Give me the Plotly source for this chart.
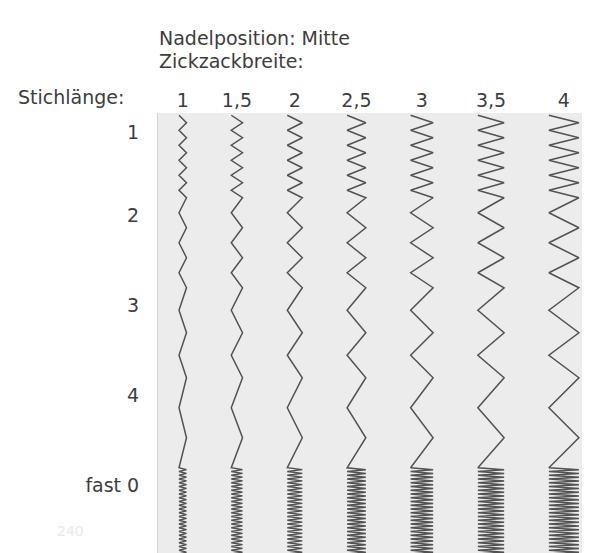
import numpy as np
import plotly.graph_objects as go

# ---- data ----
width_labels = ["1", "1,5", "2", "2,5", "3", "3,5", "4"]
zigzag_widths = [1.0, 1.5, 2.0, 2.5, 3.0, 3.5, 4.0]      # Zickzackbreite (mm)
row_labels = ["1", "2", "3", "4", "fast 0"]
stitch_lengths = [1.0, 2.0, 3.0, 4.0, 0.25]                # Stichlänge (mm), "fast 0" = satin
stitch_counts = [11, 6, 4, 3, 48]                          # stitches sewn per row

# ---- layout constants ----
OFF = 8                      # page body margin of the html page
W, H = 590 - OFF, 553 - OFF
ML, MT, MR, MB = 158 - OFF, 113 - OFF, 0, 0
PX_PER_MM = 7.5
plot_w = W - ML - MR
plot_h = H - MT - MB
x_max = plot_w / PX_PER_MM
y_max = plot_h / PX_PER_MM
x_start = 2.8      # mm, left edge of first column
col_gap = 5.97     # mm, gap between columns
y_start = 0.3      # mm, first stitch
label_offset = 2.3 # mm, row label below row start

TEXT = "#3d3d3d"
THREAD = "#525252"
FONT = "DejaVu Sans, Liberation Sans, Arial, sans-serif"
FS = 19

# column centres from widths
centers = []
left = x_start
for w in zigzag_widths:
    centers.append(left + w / 2)
    left += w + col_gap

# per-stitch lengths and row starts
per_stitch = np.concatenate([[L] * n for L, n in zip(stitch_lengths, stitch_counts)])
y_vertices = y_start + np.concatenate([[0.0], np.cumsum(per_stitch)])
row_starts = y_start + np.concatenate([[0.0], np.cumsum(np.array(stitch_lengths) * np.array(stitch_counts))[:-1]])
row_ticks = row_starts + label_offset

fig = go.Figure()
sides = np.where(np.arange(len(y_vertices)) % 2 == 0, -1.0, 1.0)
for c, w in zip(centers, zigzag_widths):
    fig.add_trace(go.Scatter(
        x=c + sides * w / 2,
        y=y_vertices,
        mode="lines",
        line=dict(color=THREAD, width=1.5),
        hoverinfo="skip",
        showlegend=False,
    ))

def px_x(px):
    return (px - OFF - ML) / plot_w

def px_y(py):
    return (H - MB - (py - OFF)) / plot_h

annotations = [
    dict(text="Nadelposition: Mitte", x=px_x(157), y=px_y(38)),
    dict(text="Zickzackbreite:", x=px_x(157), y=px_y(61)),
    dict(text="Stichlänge:", x=px_x(16), y=px_y(97)),
    dict(text="240", x=px_x(55), y=px_y(531), color="#e8e8e8", size=14),
]
fig.update_layout(
    width=W, height=H,
    margin=dict(l=ML, r=MR, t=MT, b=MB, pad=0),
    paper_bgcolor="white",
    plot_bgcolor="#ececec",
    font=dict(family=FONT, size=FS, color=TEXT),
    annotations=[
        dict(text=a["text"], x=a["x"], y=a["y"], xref="paper", yref="paper",
             xanchor="left", yanchor="middle", showarrow=False,
             font=dict(family=FONT, size=a.get("size", FS), color=a.get("color", TEXT)))
        for a in annotations
    ],
)
fig.update_xaxes(
    range=[0, x_max], side="top",
    tickmode="array", tickvals=centers, ticktext=width_labels,
    showgrid=False, zeroline=False, showline=False, ticks="",
    tickfont=dict(family=FONT, size=FS, color=TEXT),
    ticklabelstandoff=1,
    fixedrange=True,
)
fig.update_yaxes(
    range=[y_max, 0],
    tickmode="array", tickvals=row_ticks, ticktext=row_labels,
    showgrid=False, zeroline=False,
    showline=True, linecolor="#d4d4d4", linewidth=1, ticks="",
    tickfont=dict(family=FONT, size=FS, color=TEXT),
    ticklabelstandoff=14,
    fixedrange=True,
)

fig.write_html("out.html")
